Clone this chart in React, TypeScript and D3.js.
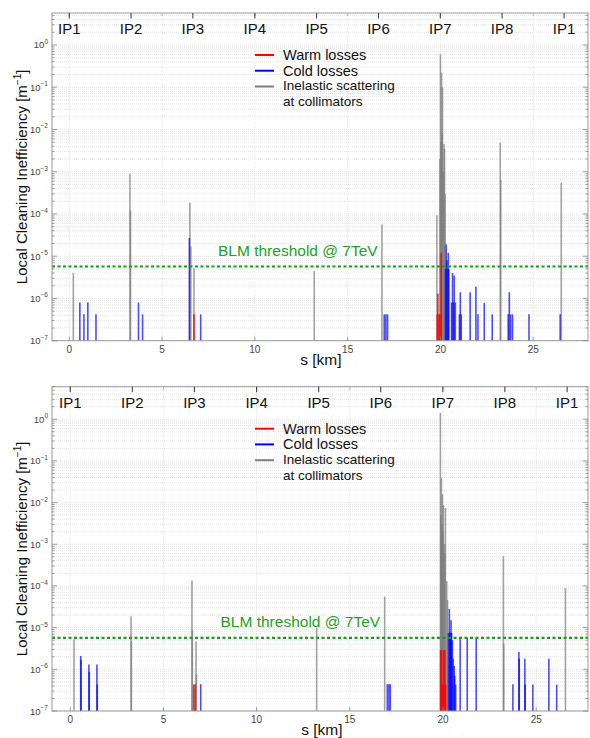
import React from 'react';
import * as d3 from 'd3';

// ---------- data ----------
const ipLabels = ['IP1', 'IP2', 'IP3', 'IP4', 'IP5', 'IP6', 'IP7', 'IP8', 'IP1'];
const ipPositions = [0, 3.33, 6.66, 10.0, 13.33, 16.66, 19.99, 23.32, 26.66];
const xTicks = [0, 5, 10, 15, 20, 25];
const yDecades = [-7, -6, -5, -4, -3, -2, -1, 0];
const blmThreshold = 5.7e-6;
const baseValue = 1e-7;

// [s (km), inefficiency (1/m)]
const topWarm: [number, number][] = [
  [6.72, 4.2e-7],
  [19.83, 4.2e-7], [19.86, 1.3e-6], [19.92, 4.2e-7], [19.97, 4.2e-7], [20.04, 1.2e-5],
];
const topCold: [number, number][] = [
  [0.57, 8e-7], [0.79, 4.2e-7], [1.0, 8e-7], [1.44, 4.2e-7],
  [3.73, 8e-7], [3.95, 4.2e-7], [6.47, 2.7e-5], [7.08, 4.2e-7],
  [16.97, 4.2e-7], [17.06, 4.2e-7], [17.15, 4.2e-7],
  [20.27, 5e-6], [20.31, 1.9e-5], [20.35, 8e-6], [20.38, 5e-6], [20.42, 1.2e-5], [20.45, 5e-6],
  [20.6, 8e-7], [20.65, 4e-6], [20.7, 8e-7], [20.74, 3.5e-6], [20.8, 8e-7],
  [21.02, 4.2e-7], [21.07, 1.4e-6], [21.12, 4.2e-7], [21.6, 1.4e-6], [21.91, 1.9e-6],
  [22.02, 4.2e-7], [22.36, 7.8e-7], [22.79, 4.2e-7],
  [23.65, 4.2e-7], [23.71, 1.4e-6], [23.78, 4.2e-7], [23.88, 4.2e-7],
  [24.77, 4.2e-7], [26.45, 4.2e-7],
];
const topInel: [number, number][] = [
  [0.22, 4e-6], [3.27, 9e-4], [3.3, 1.2e-4], [6.5, 1.85e-4], [6.55, 1.7e-5], [6.72, 5.2e-6],
  [13.2, 4.5e-6], [16.85, 5.6e-5], [19.81, 9.3e-5],
  [19.97, 2e-3], [20.0, 0.6], [20.03, 5e-3], [20.06, 0.22], [20.09, 8e-3], [20.11, 0.1],
  [20.15, 1e-3], [20.19, 4.5e-3], [20.22, 3.5e-3], [20.25, 3e-4],
  [23.22, 4.9e-3], [23.25, 6.5e-4], [26.51, 5.5e-4],
];

const botWarm: [number, number][] = [
  [6.63, 4.3e-7], [6.7, 4.3e-7],
  [19.87, 2.9e-6], [19.92, 2.9e-6], [19.97, 4.3e-7], [20.03, 2.9e-6], [20.1, 2.9e-6], [20.14, 4.3e-7],
];
const botCold: [number, number][] = [
  [0.56, 2.1e-6], [0.58, 1.7e-6], [1.0, 1.3e-6], [1.02, 8.6e-7], [1.43, 1.3e-6], [1.45, 4.3e-7],
  [7.0, 4.4e-7], [17.01, 4.4e-7], [17.1, 4.4e-7], [17.17, 4.4e-7],
  [20.29, 7.5e-6], [20.34, 2.8e-5], [20.37, 7.5e-6], [20.4, 7.5e-6], [20.43, 1.5e-5], [20.46, 7.5e-6],
  [20.5, 5e-6], [20.55, 1.8e-6], [20.6, 1.2e-6], [20.63, 7e-7], [20.68, 4.3e-7],
  [20.92, 5.7e-6], [21.3, 5.7e-6], [21.78, 5.7e-6],
  [23.75, 4.4e-7], [24.07, 2.6e-6], [24.09, 1.8e-6], [24.39, 1.8e-6], [24.41, 4.3e-7],
  [24.82, 4.3e-7], [25.68, 1.8e-6], [26.1, 4.3e-7],
];
const botInel: [number, number][] = [
  [0.2, 5.3e-6], [3.26, 1.85e-5], [3.28, 4.7e-6], [6.53, 1.35e-4], [6.55, 8.8e-6],
  [6.75, 4.7e-6], [6.77, 7.6e-7], [13.22, 1.0e-5], [16.87, 5.6e-5],
  [19.86, 1.4], [19.89, 5e-3], [19.91, 0.039], [19.94, 3e-3], [19.97, 0.016], [20.0, 2e-3],
  [20.02, 8.7e-3], [20.07, 1e-3], [20.1, 6e-4], [20.13, 7.4e-3], [20.2, 1.3e-4], [20.24, 4.6e-5],
  [23.24, 5.2e-4], [23.26, 4.1e-6], [26.57, 8.9e-5],
];

const FONT = '"Liberation Sans", Arial, Helvetica, sans-serif';
const W = 590;
const H = 738;

type PanelProps = {
  left: number; right: number; top: number; bottom: number;
  xDomain: [number, number]; yTopExp: number;
  warm: [number, number][]; cold: [number, number][]; inel: [number, number][];
  blmX: number;
};

function Panel(p: PanelProps) {
  const x = d3.scaleLinear().domain(p.xDomain).range([p.left, p.right]);
  const y = d3.scaleLog().domain([baseValue, Math.pow(10, p.yTopExp)]).range([p.bottom, p.top]);
  const minorVals: number[] = [];
  yDecades.forEach((e) => {
    for (let m = 1; m <= 9; m++) {
      const v = m * Math.pow(10, e);
      if (y(v) >= p.top - 0.1) minorVals.push(v);
    }
  });
  const gridX = d3.range(Math.ceil(p.xDomain[0]), Math.floor(p.xDomain[1]) + 1, 5);
  const y0 = y(baseValue);
  const blmY = y(blmThreshold);
  const legX = 255;
  const legY = p.top + 42;
  const midY = (p.top + p.bottom) / 2;
  const bar = (d: [number, number], color: string, op: number, i: number) => (
    <line key={i} x1={x(d[0])} x2={x(d[0])} y1={y0} y2={y(d[1])}
      stroke={color} strokeWidth={1.6} strokeOpacity={op} />
  );
  return (
    <g fontFamily={FONT}>
      {/* grid */}
      {minorVals.map((v, i) => (
        <line key={'gy' + i} x1={p.left} x2={p.right} y1={y(v)} y2={y(v)}
          stroke="#d8d8d8" strokeWidth={0.7} strokeDasharray="1,1" />
      ))}
      {gridX.map((s, i) => (
        <line key={'gx' + i} x1={x(s)} x2={x(s)} y1={p.top} y2={p.bottom}
          stroke="#d8d8d8" strokeWidth={0.7} strokeDasharray="1,1" />
      ))}
      {/* bars */}
      <g>{p.inel.map((d, i) => bar(d, '#7a7a7a', 0.7, i))}</g>
      <g>{p.cold.map((d, i) => bar(d, '#0000ff', 0.7, i))}</g>
      <g>{p.warm.map((d, i) => bar(d, '#ff0000', 0.85, i))}</g>
      {/* threshold */}
      <line x1={p.left} x2={p.right} y1={blmY} y2={blmY} stroke="#1e9a1e"
        strokeWidth={2.2} strokeDasharray="3,2.5" />
      <text x={p.blmX} y={blmY - 11} fontSize={15.5} fill="#23a023">BLM threshold @ 7TeV</text>
      {/* frame */}
      <rect x={p.left} y={p.top} width={p.right - p.left} height={p.bottom - p.top}
        fill="none" stroke="#9a9a9a" strokeWidth={1} />
      {/* y ticks */}
      {minorVals.map((v, i) => {
        const major = Math.abs(Math.log10(v) - Math.round(Math.log10(v))) < 1e-6;
        const len = major ? 5 : 2.5;
        return (
          <g key={'yt' + i} stroke="#888" strokeWidth={0.8}>
            <line x1={p.left} x2={p.left + len} y1={y(v)} y2={y(v)} />
            <line x1={p.right} x2={p.right - len} y1={y(v)} y2={y(v)} />
          </g>
        );
      })}
      {yDecades.map((e) => (
        <text key={'yl' + e} x={48} y={y(Math.pow(10, e)) + 3.5} fontSize={9.5}
          textAnchor="end" fill="#444">
          10<tspan dy={-4.5} fontSize={6.5}>{e === 0 ? '0' : '\u2212' + Math.abs(e)}</tspan>
        </text>
      ))}
      {/* x ticks */}
      {xTicks.map((s) => (
        <g key={'xt' + s}>
          <line x1={x(s)} x2={x(s)} y1={p.bottom} y2={p.bottom - 4} stroke="#888" strokeWidth={0.8} />
          <line x1={x(s)} x2={x(s)} y1={p.top} y2={p.top + 3} stroke="#aaa" strokeWidth={0.8} />
          <text x={x(s)} y={p.bottom + 12} fontSize={10} textAnchor="middle" fill="#444">{s}</text>
        </g>
      ))}
      {/* IP ticks */}
      {ipPositions.map((s, i) => (
        <g key={'ip' + i}>
          <line x1={x(s)} x2={x(s)} y1={p.top} y2={p.top + 5.5} stroke="#333" strokeWidth={1} />
          <text x={x(s)} y={p.top + 21} fontSize={15} textAnchor="middle" fill="#111">{ipLabels[i]}</text>
        </g>
      ))}
      {/* axis labels */}
      <text x={x(0) + 231} y={p.bottom + 24} fontSize={15.5} fill="#111">s [km]</text>
      <text transform={`translate(27,${midY}) rotate(-90)`} fontSize={15} textAnchor="middle" fill="#111">
        Local Cleaning Inefficiency [m<tspan dy={-6} fontSize={10}>{'\u22121'}</tspan><tspan dy={6}>]</tspan>
      </text>
      {/* legend */}
      <g fontSize={14.5} fill="#111">
        <line x1={legX} x2={legX + 19} y1={legY} y2={legY} stroke="#ff0000" strokeWidth={2} />
        <text x={legX + 28} y={legY + 5}>Warm losses</text>
        <line x1={legX} x2={legX + 19} y1={legY + 15.7} y2={legY + 15.7} stroke="#0000ff" strokeWidth={2} />
        <text x={legX + 28} y={legY + 20.7}>Cold losses</text>
        <line x1={legX} x2={legX + 19} y1={legY + 31.5} y2={legY + 31.5} stroke="#808080" strokeWidth={2} />
        <text x={legX + 28} y={legY + 34.8} fontSize={13.5}>Inelastic scattering</text>
        <text x={legX + 28} y={legY + 50.8} fontSize={13.5}>at collimators</text>
      </g>
    </g>
  );
}

export default function App() {
  return (
    <svg width={W} height={H} viewBox={`0 0 ${W} ${H}`}
      style={{ position: 'absolute', left: 0, top: 0, background: '#fff' }}>
      <rect x={0} y={0} width={W} height={H} fill="#fff" />
      <Panel left={52} right={588} top={13} bottom={340.7} xDomain={[-0.93, 27.95]} yTopExp={0.757}
        warm={topWarm} cold={topCold} inel={topInel} blmX={218} />
      <Panel left={52} right={588} top={386.7} bottom={711} xDomain={[-0.98, 27.78]} yTopExp={0.78}
        warm={botWarm} cold={botCold} inel={botInel} blmX={220.5} />
    </svg>
  );
}
